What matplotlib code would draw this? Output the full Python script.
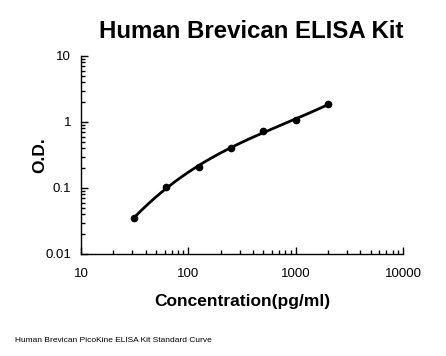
import numpy as np
import matplotlib
matplotlib.use("Agg")
import matplotlib.pyplot as plt
from matplotlib.ticker import LogLocator, NullFormatter

conc = [31.25, 62.5, 125, 250, 500, 1000, 2000]
od = [0.035, 0.105, 0.208, 0.40, 0.74, 1.07, 1.85]
xticks = [10, 100, 1000, 10000]
xticklabels = ["10", "100", "1000", "10000"]
yticks = [0.01, 0.1, 1, 10]
yticklabels = ["0.01", "0.1", "1", "10"]

plt.rcParams['font.family'] = ['Liberation Sans', 'DejaVu Sans']

fig = plt.figure(figsize=(4.46, 3.56), dpi=100)
ax = fig.add_axes([81/446, 1-254/356, (403-81)/446, (254-56)/356])

lx = np.log10(conc)
ly = np.log10(od)
coef = np.polyfit(lx, ly, 3)
xs = np.linspace(lx[0], lx[-1], 200)
ax.plot(10**xs, 10**np.polyval(coef, xs), color='black', lw=2)
ax.plot(conc, od, 'o', color='black', ms=4.5)

ax.set_xscale('log')
ax.set_yscale('log')
ax.set_xlim(10, 10000)
ax.set_ylim(0.01, 10)
ax.set_xticks(xticks)
ax.set_xticklabels(xticklabels)
ax.set_yticks(yticks)
ax.set_yticklabels(yticklabels)
ax.xaxis.set_minor_locator(LogLocator(base=10, subs=np.arange(2, 10)))
ax.yaxis.set_minor_locator(LogLocator(base=10, subs=np.arange(2, 10)))
ax.xaxis.set_minor_formatter(NullFormatter())
ax.yaxis.set_minor_formatter(NullFormatter())
ax.tick_params(which='both', direction='in', labelsize=9.5, width=1)
ax.tick_params(which='major', length=5)
ax.tick_params(which='minor', length=3)
ax.tick_params(axis='x', pad=10)
ax.tick_params(axis='y', pad=7)
for s in ['top', 'right']:
    ax.spines[s].set_visible(False)
for s in ['left', 'bottom']:
    ax.spines[s].set_linewidth(1)

ax.set_xlabel("Concentration(pg/ml)", fontsize=12.5, fontweight='bold', labelpad=10)
ax.set_ylabel("O.D.", fontsize=12.5, fontweight='bold', labelpad=-1)
fig.text(251/446, 1-31/356, "Human Brevican ELISA Kit", fontsize=17.3, fontweight='bold', ha='center', va='center')
fig.text(15/446, 1-340/356, "Human Brevican PicoKine ELISA Kit Standard Curve", fontsize=6, ha='left', va='center')

fig.savefig("out.png", dpi=100)
